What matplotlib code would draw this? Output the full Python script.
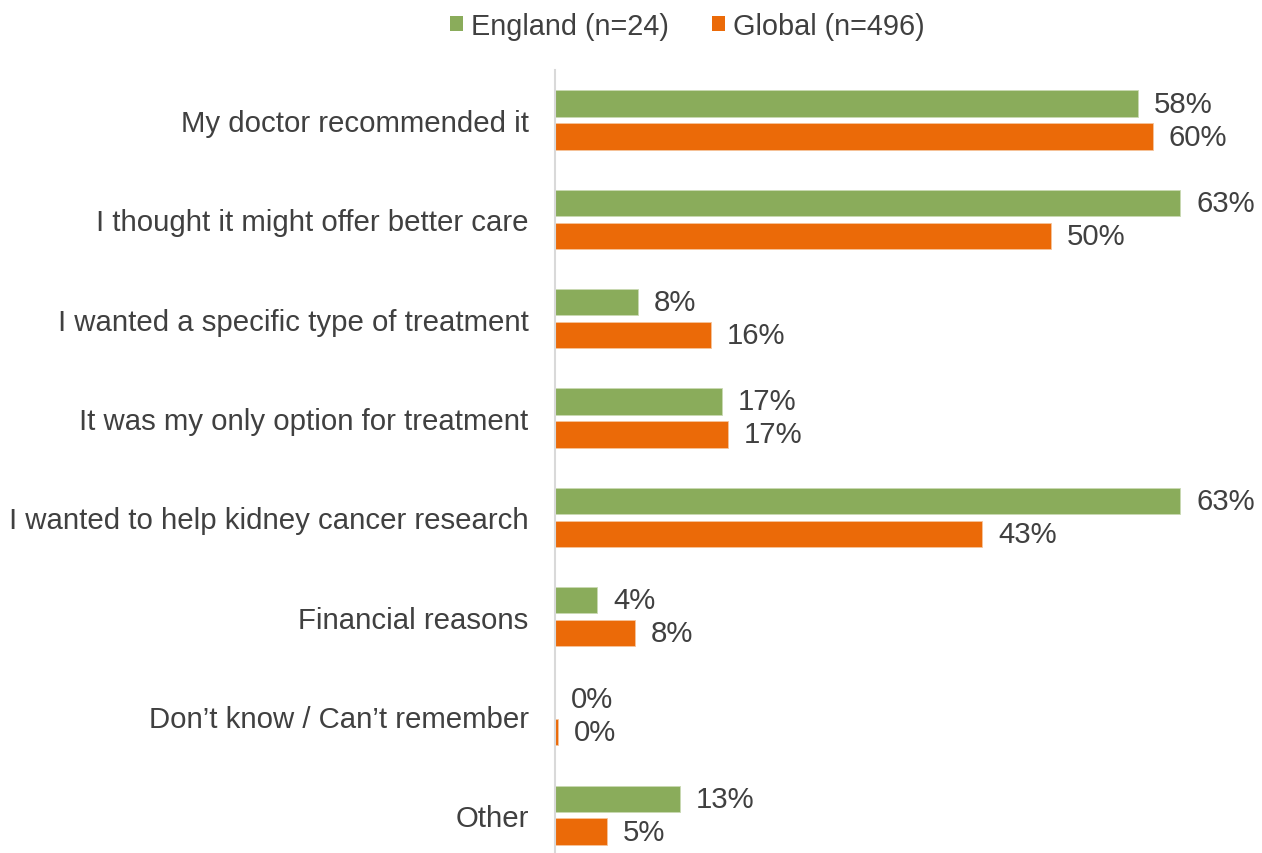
import math
import matplotlib
matplotlib.use("Agg")
import matplotlib.pyplot as plt
from matplotlib.patches import Patch

plt.rcParams['font.family'] = ['Liberation Sans', 'DejaVu Sans']

categories = [
    "My doctor recommended it",
    "I thought it might offer better care",
    "I wanted a specific type of treatment",
    "It was my only option for treatment",
    "I wanted to help kidney cancer research",
    "Financial reasons",
    "Don\u2019t know / Can\u2019t remember",
    "Other",
]
england = [58.3, 62.5, 8.3, 16.7, 62.5, 4.2, 0.0, 12.5]
global_ = [59.8, 49.6, 15.6, 17.3, 42.7, 8.0, 0.3, 5.2]
series_names = ["England (n=24)", "Global (n=496)"]

GREEN = "#8AAC5B"
ORANGE = "#EB6A08"
TEXT = "#404040"
FS = 21.2

W, H = 1262, 854
fig = plt.figure(figsize=(W / 100, H / 100), dpi=100)
band = 99.3
top_px = 71.4
ax_h = band * len(categories)
left_px = 555
ax = fig.add_axes([left_px / W, (H - top_px - ax_h) / H, 700 / W, ax_h / H])

n = len(categories)
ys = list(range(n))
bh = 0.265
off = 0.166
ax.barh([y - off for y in ys], england, height=bh, color=GREEN, edgecolor="#c9d9b3", linewidth=0.6)
ax.barh([y + off for y in ys], global_, height=bh, color=ORANGE, edgecolor="#f6c49c", linewidth=0.6)

def fmt(v):
    return f"{int(math.floor(v + 0.5))}%"

for y, v in zip(ys, england):
    ax.annotate(fmt(v), (v, y - off), xytext=(16, 0), textcoords="offset pixels",
                va="center", ha="left", fontsize=FS, color=TEXT)
for y, v in zip(ys, global_):
    ax.annotate(fmt(v), (v, y + off), xytext=(16, 0), textcoords="offset pixels",
                va="center", ha="left", fontsize=FS, color=TEXT)

ax.set_xlim(0, 70)
ax.set_ylim(n - 0.5, -0.5)
ax.set_yticks(ys)
ax.set_yticklabels(categories, fontsize=FS, color=TEXT)
ax.tick_params(axis="y", length=0, pad=19)
ax.set_xticks([])
for s in ["top", "right", "bottom"]:
    ax.spines[s].set_visible(False)
ax.spines["left"].set_color("#d9d9d9")
ax.spines["left"].set_linewidth(1.5)

handles = [Patch(facecolor=GREEN), Patch(facecolor=ORANGE)]
fig.legend(handles, series_names, loc="center", bbox_to_anchor=(687.5 / W, 1 - 27 / H),
           ncol=2, frameon=False, fontsize=FS - 0.4, labelcolor=TEXT,
           handlelength=0.44, handleheight=0.44, handletextpad=0.28, columnspacing=1.5,
           borderpad=0, borderaxespad=0)

fig.savefig("out.png", dpi=100)
